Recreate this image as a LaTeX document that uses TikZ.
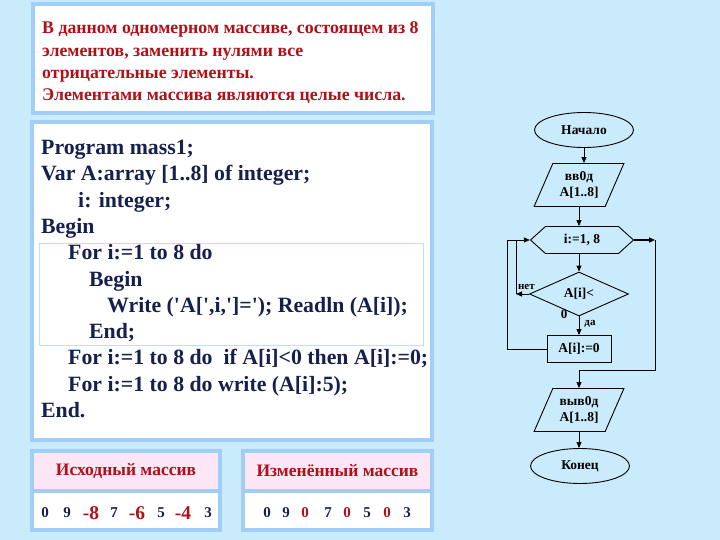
\documentclass[tikz,border=0pt]{standalone}
\usepackage{fontspec}
\setmainfont{Liberation Serif}
\usetikzlibrary{arrows.meta,shapes.geometric,shapes.symbols}
\definecolor{bgblue}{RGB}{202,235,252}
\definecolor{frameblue}{RGB}{160,206,246}
\definecolor{innerline}{RGB}{188,224,246}
\definecolor{headpink}{RGB}{253,230,246}
\definecolor{darkred}{RGB}{176,16,24}
\definecolor{navy}{RGB}{22,32,78}
\tikzset{
  panel/.style={draw=frameblue,line width=3.5pt,fill=white,inner sep=0pt},
  head/.style={panel,fill=headpink,text=darkred,font=\fontsize{17.5}{20}\selectfont\bfseries},
  blk/.style={draw=black,line width=.9pt,font=\fontsize{13.5}{16}\selectfont\bfseries,
              align=center,inner sep=1pt},
  term/.style={blk,ellipse,minimum width=99pt,minimum height=35pt},
  io/.style={blk,trapezium,trapezium stretches=true,trapezium left angle=63,
             trapezium right angle=117,minimum width=90pt,minimum height=43pt},
  cyc/.style={blk,signal,signal to=east and west,signal pointer angle=84,
              minimum width=103pt,minimum height=27pt},
  ask/.style={blk,diamond,aspect=2.25,minimum width=99pt,minimum height=44pt},
  act/.style={blk,rectangle,minimum width=64pt,minimum height=27pt},
  ar/.style={-{Triangle[length=6pt,width=5pt]},line width=.9pt},
  lbl/.style={font=\fontsize{11}{12}\selectfont\bfseries,inner sep=0pt},
  num/.style={text=navy,font=\fontsize{15}{16}\selectfont\bfseries,inner sep=0pt},
  neg/.style={text=darkred,font=\fontsize{19.5}{20}\selectfont\bfseries,inner sep=0pt},
  zer/.style={text=darkred,font=\fontsize{15}{16}\selectfont\bfseries,inner sep=0pt},
}
\begin{document}
\begin{tikzpicture}[x=1pt,y=-1pt]
  \fill[bgblue] (0,0) rectangle (720,540);
  \useasboundingbox (0,0) rectangle (720,540);
  % task text
  \node[panel,minimum width=400pt,minimum height=109pt] (task) at (233,58.5) {};
  \node[anchor=west,align=left,text=darkred,inner sep=0pt,
        font=\fontsize{17.8}{22.3}\selectfont\bfseries] (tasktxt) at (42,63)
    {В данном одномерном массиве, состоящем из 8\\
     элементов, заменить нулями все\\
     отрицательные элементы.\\
     Элементами массива являются целые числа.};
  % program
  \node[panel,minimum width=400pt,minimum height=318pt] (prog) at (232,281) {};
  \draw[innerline,line width=1pt] (39,243) rectangle (423,345);
  \node[anchor=west,align=left,text=navy,inner sep=0pt,
        font=\fontsize{21.8}{26.3}\selectfont\bfseries] (code) at (41,279)
    {Program mass1;\\
     Var A:array [1..8] of integer;\\
     \hspace*{37pt}i: integer;\\
     Begin\\
     \hspace*{27pt}For i:=1 to 8 do\\
     \hspace*{48pt}Begin\\
     \hspace*{66pt}Write (\textquotesingle A[\textquotesingle,i,\textquotesingle]=\textquotesingle); Readln (A[i]);\\
     \hspace*{48pt}End;\\
     \hspace*{27pt}For i:=1 to 8 do\ \ if A[i]<0 then A[i]:=0;\\
     \hspace*{27pt}For i:=1 to 8 do write (A[i]:5);\\
     End.};
  % arrays
  \node[head,minimum width=188pt,minimum height=40pt] (srchead) at (126,471) {Исходный массив};
  \node[panel,minimum width=188pt,minimum height=39pt] (srcrow) at (126,510.5) {};
  \node[head,minimum width=189pt,minimum height=40pt] (reshead) at (337.5,471) {Изменённый массив};
  \node[panel,minimum width=189pt,minimum height=39pt] (resrow) at (337.5,510.5) {};
  \foreach \x/\v/\s [count=\i] in {45/0/num,67/9/num,91/-8/neg,114/7/num,
                                   137/-6/neg,161/5/num,183/-4/neg,208/3/num}
    \node[\s] (src\i) at (\x,513) {\v};
  \foreach \x/\v/\s [count=\i] in {267/0/num,286/9/num,305/0/zer,328/7/num,
                                   347/0/zer,367/5/num,387/0/zer,407/3/num}
    \node[\s] (res\i) at (\x,513) {\v};
  % flowchart
  \node[term] (start) at (584,130) {Начало};
  \node[io]   (inp)   at (579,185) {вв0д\\A[1..8]};
  \node[cyc]  (loop)  at (582,240) {i:=1, 8};
  \node[ask,label={[lbl,font=\fontsize{13}{14}\selectfont\bfseries,xshift=4pt]below left:0}] (cond) at (579,294) {A[i]<};
  \node[act]  (set)   at (579,349) {A[i]:=0};
  \node[io]   (out)   at (579,410) {выв0д\\A[1..8]};
  \node[term] (fin)   at (580,466) {Конец};
  \coordinate (back) at (507,0);
  \coordinate (nope) at (516,0);
  \coordinate (exitx) at (655,0);
  \coordinate (joinr) at (0,370);
  \draw[ar] (start.south) -- (start.south |- inp.north);
  \draw[ar] (inp.south) -- (inp.south |- loop.north);
  \draw[ar] (loop.south -| cond.north) -- (cond.north);
  \draw[ar] (cond.south) -- node[lbl,right=5pt,pos=.4] (yes) {да} (set.north);
  \draw[ar] (cond.west) -- node[lbl,above=4pt,pos=.2] (no) {нет} (cond.west -| nope);
  \draw[line width=.9pt] (cond.west -| nope) -- (loop.west -| nope);
  \draw[ar] (set.west) -- (set.west -| back) -- (loop.west -| back) -- (loop.west);
  \draw[ar,line width=1.4pt] (loop.east) -- (loop.east -| exitx);
  \draw[ar] (loop.east -| exitx) -- (exitx |- joinr) -- (out.north |- joinr) -- (out.north);
  \draw[ar] (out.south) -- (out.south |- fin.north);
\end{tikzpicture}
\end{document}
